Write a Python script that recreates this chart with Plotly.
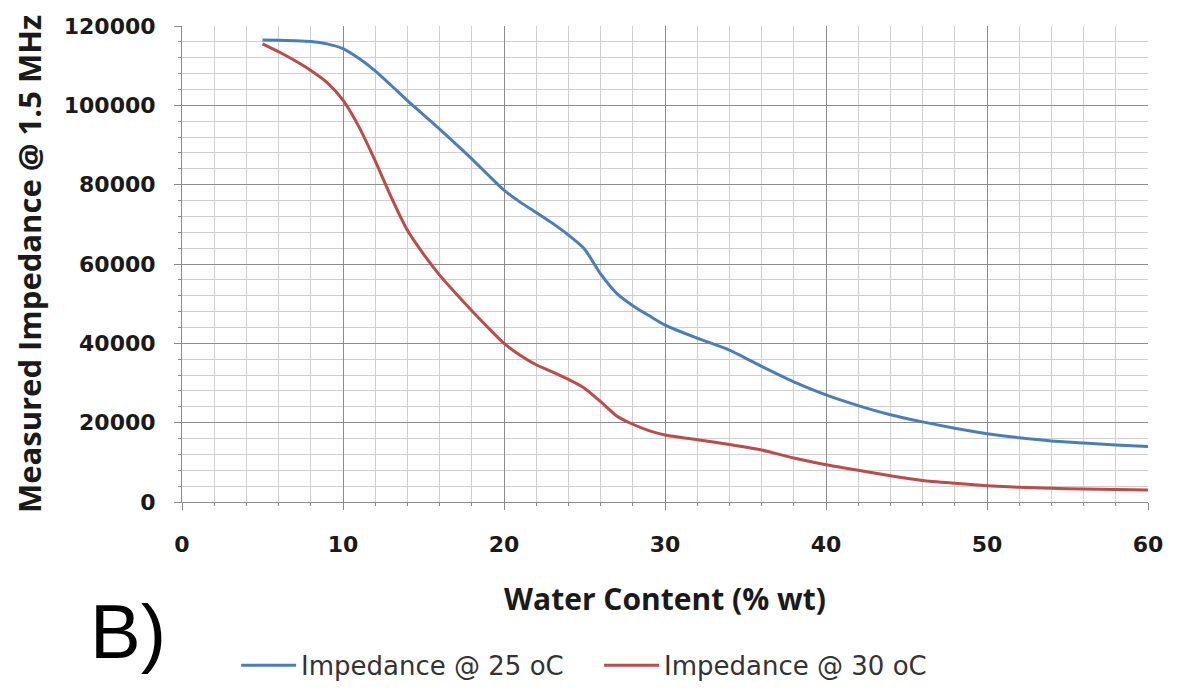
import plotly.graph_objects as go

# Data
x_25 = [5, 6, 7, 8, 9, 10, 11, 12, 13, 14, 15, 16, 17, 18, 19, 20, 21, 22, 23, 24, 25, 26, 27, 28, 29,
        30, 32, 34, 36, 38, 40, 42, 44, 46, 48, 50, 52, 54, 56, 58, 60]
z_25 = [116500, 116400, 116300, 116100, 115500, 114300, 111800, 108700, 105000, 101200, 97600,
        94000, 90300, 86500, 82500, 78600, 75600, 73000, 70300, 67300, 63800, 57500, 52600, 49500,
        47000, 44600, 41300, 38300, 34200, 30300, 27000, 24300, 22000, 20200, 18600, 17200, 16200,
        15400, 14900, 14400, 14000]

x_30 = [5, 6, 7, 8, 9, 10, 11, 12, 13, 14, 15, 16, 17, 18, 19, 20, 21, 22, 23, 24, 25, 26, 27, 28, 29,
        30, 32, 34, 36, 38, 40, 42, 44, 46, 48, 50, 52, 54, 56, 58, 60]
z_30 = [115500, 113500, 111300, 108800, 105800, 101300, 94500, 86000, 76800, 68500, 62500, 57200,
        52600, 48200, 44000, 40000, 37000, 34600, 32800, 30900, 28700, 25300, 21700, 19600, 18000,
        16900, 15700, 14500, 13100, 11100, 9400, 8000, 6600, 5400, 4700, 4100, 3700, 3450, 3300,
        3150, 3030]

name_25 = "Impedance @ 25 oC"
name_30 = "Impedance @ 30 oC"
x_title = "Water Content (% wt)"
y_title = "Measured Impedance @ 1.5 MHz"
panel_label = "B)"

fig = go.Figure()
fig.add_trace(go.Scatter(x=x_25, y=z_25, mode="lines", name=name_25,
                         line=dict(color="#4a7ebb", width=3, shape="spline", smoothing=0.6)))
fig.add_trace(go.Scatter(x=x_30, y=z_30, mode="lines", name=name_30,
                         line=dict(color="#be4b48", width=3, shape="spline", smoothing=0.6)))

tickfont = dict(family="DejaVu Sans", size=22, color="#1a1a1a", weight="bold")

fig.update_layout(
    width=1168, height=700,
    margin=dict(l=174, r=28, t=18, b=206, autoexpand=False),
    paper_bgcolor="white", plot_bgcolor="white",
    showlegend=True,
    legend=dict(orientation="h", x=0.056, xanchor="left", y=-0.343, yanchor="middle",
                font=dict(family="DejaVu Sans", size=26, color="#333333"),
                itemwidth=55, tracegroupgap=0, entrywidth=293),
    xaxis=dict(range=[0, 60], dtick=10, tick0=0, automargin=False,
               showgrid=True, gridcolor="#8c8c8c", gridwidth=1,
               minor=dict(dtick=2, showgrid=True, gridcolor="#cfcfcf", gridwidth=1,
                          ticks="outside", ticklen=3, tickcolor="#8c8c8c"),
               ticks="outside", ticklen=7, tickcolor="#8c8c8c",
               showline=True, linecolor="#8c8c8c", linewidth=1,
               zeroline=False,
               tickfont=tickfont, ticklabelstandoff=16,
               title=dict(text=x_title, standoff=32,
                          font=dict(family="Open Sans", size=30, color="#1a1a1a", weight="bold"))),
    yaxis=dict(range=[0, 120000], dtick=20000, tick0=0, tickformat="d", automargin=False,
               showgrid=True, gridcolor="#8c8c8c", gridwidth=1,
               minor=dict(dtick=4000, showgrid=True, gridcolor="#cfcfcf", gridwidth=1,
                          ticks="outside", ticklen=3, tickcolor="#8c8c8c"),
               ticks="outside", ticklen=7, tickcolor="#8c8c8c",
               showline=True, linecolor="#8c8c8c", linewidth=1,
               zeroline=False,
               tickfont=tickfont, ticklabelstandoff=14,
               title=dict(text=y_title, standoff=14,
                          font=dict(family="Open Sans", size=31, color="#1a1a1a", weight="bold"))),
)

fig.add_annotation(text=panel_label, xref="paper", yref="paper",
                   x=-0.056, y=-0.273, xanchor="center", yanchor="middle", showarrow=False,
                   font=dict(family="Liberation Sans", size=76, color="black"))

fig.write_html("out.html")
